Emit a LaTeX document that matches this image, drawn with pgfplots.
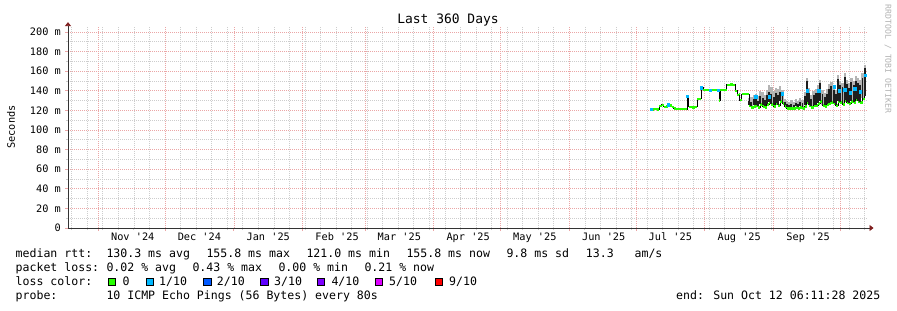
\documentclass[border=0pt]{standalone}
\usepackage{fontspec}
\setmainfont{DejaVu Sans Mono}
\usepackage{pgfplots}
\usepackage{pgfplotstable}
\pgfplotsset{compat=1.18}
\usetikzlibrary{arrows.meta}

\definecolor{lossA}{HTML}{26FF00}
\definecolor{lossB}{HTML}{00B8FF}
\definecolor{lossC}{HTML}{0059FF}
\definecolor{lossD}{HTML}{5E00FF}
\definecolor{lossE}{HTML}{7E00FF}
\definecolor{lossF}{HTML}{DD00FF}
\definecolor{lossG}{HTML}{FF0000}
\definecolor{mgrid}{HTML}{EBA6A6}
\definecolor{ngrid}{HTML}{CDCDCD}
\definecolor{arrowc}{HTML}{802020}
\definecolor{smokeL}{HTML}{B4B4B4}
\definecolor{smokeD}{HTML}{1E1E1E}

\newcommand{\q}{\textquotesingle}

% days since 1 Nov 2024, median rtt in ms
\pgfplotstableread{
d m
248.8 121.0
250.1 121.5
251.5 121.0
252.4 124.5
253.7 125.5
254.6 123.5
255.5 124.0
256.4 126.0
257.3 125.0
258.2 123.8
259.1 122.0
260.0 121.4
265.0 134.0
265.8 123.5
267.2 123.0
268.6 123.5
269.5 132.0
271.3 143.5
272.2 141.0
276.2 140.5
279.4 130.0
279.9 140.5
282.8 146.0
284.3 146.5
285.7 146.0
286.6 140.0
287.5 135.5
288.4 137.0
288.8 130.5
289.7 136.7
293 125
294 123
295 124
296 125
297 123
298 126
299 124
300 123
301 126
302 128
303 126
304 124
305 127
306 125
307 129
308 127
309 124
310 122
311 122
312 122
313 122
314 123
315 122
316 123
317 122
318 124
319 128
320 125
321 123
322 125
323 125
324 127
325 129
326 125
327 124
328 126
329 127
330 128
331 127
332 125
333 129
334 128
335 126
336 130
337 128
338 127
339 129
340 128
341 131
342 129
343 128
344 132
345 156
345.8 156
}\median

% smoke: dense range (bl..bh) and light range up to sh
\pgfplotstableread{
d sh bl bh
293 133 126 130
294 134 124 129
295 136 125 132
296 137 126 134
297 135 124 130
298 140 127 135
299 139 125 133
300 136 124 131
301 141 127 136
302 146 129 139
303 144 127 137
304 140 125 134
305 143 128 138
306 142 126 136
307 145 130 139
308 141 128 137
309 132 125 129
310 130 123 127
311 129 123 126
312 131 123 127
313 129 123 126
314 132 124 128
315 130 123 127
316 133 124 129
317 131 123 128
318 139 125 135
319 153 129 150
320 143 126 138
321 136 124 132
322 140 126 136
323 142 126 138
324 146 128 141
325 151 130 148
326 141 126 137
327 138 125 134
328 142 127 137
329 147 128 142
330 149 129 145
331 146 128 141
332 141 126 137
333 156 130 152
334 150 129 146
335 148 127 144
336 158 131 154
337 151 129 147
338 148 128 143
339 153 130 149
340 150 129 146
341 155 132 150
342 153 130 148
343 151 129 146
344 158 133 153
345 166 135 163
}\smoke

% points with 1/10 loss
\pgfplotstableread{
d m
248.9 121.0
256.4 126.0
265.0 134.5
271.5 143.0
275.5 140.5
279.0 140.5
296.0 134.0
302.0 134.0
307.8 137.0
319.0 140.0
324.2 140.0
331.2 144.0
333.5 140.0
336.0 141.0
338.5 138.0
340.5 142.0
343.0 139.0
345.2 156.0
}\lossone

\begin{document}
\begin{tikzpicture}[x=1bp,y=1bp]
\path[use as bounding box] (0,0) rectangle (897,310);
\begin{axis}[
  at={(68bp,82bp)}, anchor=south west,
  scale only axis, width=798.5bp, height=201.9bp,
  xmin=-13.64, xmax=345.8, ymin=0, ymax=206,
  axis x line=bottom, axis y line=left,
  x axis line style={draw=black!80, line width=0.8bp, shorten >=-7bp, -{Triangle[length=4bp,width=6bp,color=arrowc]}},
  y axis line style={draw=black!80, line width=0.8bp, shorten >=-4bp, -{Triangle[length=4bp,width=6bp,color=arrowc]}},
  xtick={0,30,61,92,120,151,181,212,242,273,304,334},
  xticklabels={,,,,,,,,,,,},
  minor xtick={-12,-5,...,345},
  extra x ticks={15.5,45.5,76.5,107.5,135.5,166.5,196.5,227.5,257.5,288.5,319.5},
  extra x tick labels={Nov \q24,Dec \q24,Jan \q25,Feb \q25,Mar \q25,Apr \q25,May \q25,Jun \q25,Jul \q25,Aug \q25,Sep \q25},
  extra x tick style={grid=none, major tick length=0pt,
     xticklabel style={anchor=base, inner sep=0pt, yshift=-12.5bp}},
  ytick={0,20,...,200},
  yticklabels={0,20 m,40 m,60 m,80 m,100 m,120 m,140 m,160 m,180 m,200 m},
  minor ytick={10,30,...,190},
  yticklabel style={anchor=east, inner sep=0pt, xshift=-4bp},
  tick label style={font=\fontsize{10.3}{12}\selectfont, text=black},
  tick align=outside,
  major tick length=3bp, minor tick length=2bp,
  major tick style={draw=mgrid, line width=0.7bp},
  minor tick style={draw=ngrid, line width=0.7bp},
  grid=both,
  major grid style={draw=mgrid, line width=0.6bp, dash pattern=on 1bp off 1bp},
  minor grid style={draw=ngrid, line width=0.6bp, dash pattern=on 1bp off 1bp},
]
% light smoke
\addplot[draw=none, mark=none, forget plot,
  error bars/.cd, y dir=plus, y explicit, error mark=none,
  error bar style={draw=smokeL, line width=2.3bp}]
  table[x=d, y=bl, y error expr=\thisrow{sh}-\thisrow{bl}] {\smoke};
% median connectors
\addplot[const plot, draw=black, line width=1bp, mark=none] table[x=d, y=m] {\median};
% median, no loss
\addplot[jump mark left, draw=lossA, line width=2.2bp, mark=none] table[x=d, y=m] {\median};
% dense smoke
\addplot[draw=none, mark=none, forget plot,
  error bars/.cd, y dir=plus, y explicit, error mark=none,
  error bar style={draw=smokeD, line width=1.9bp}]
  table[x=d, y=bl, y error expr=\thisrow{bh}-\thisrow{bl}] {\smoke};
% 1/10 loss
\addplot[only marks, mark=square*, mark size=1.2bp, mark options={draw=lossB, fill=lossB}] table[x=d, y=m] {\lossone};
\end{axis}

\node[font=\fontsize{13}{15}\selectfont, anchor=center] at (448,290) {Last 360 Days};
\node[font=\fontsize{10.3}{12}\selectfont, rotate=90, anchor=center] at (11,183) {Seconds};
\node[font=\fontsize{8.2}{10}\selectfont, text=black!30, rotate=-90, anchor=center] at (888,251) {RRDTOOL / TOBI OETIKER};

\begin{scope}[every node/.style={anchor=base west, inner sep=0pt, font=\fontsize{11.6}{13}\selectfont}]
\node at (15.5,52.3) {median rtt:};
\node at (106.3,52.3) {130.3 ms avg};
\node at (206.3,52.3) {155.8 ms max};
\node at (306.3,52.3) {121.0 ms min};
\node at (406.3,52.3) {155.8 ms now};
\node at (506.3,52.3) {9.8 ms sd};
\node at (585.7,52.3) {13.3~~~am/s};
\node at (15.5,38.2) {packet loss:};
\node at (106.3,38.2) {0.02 \% avg};
\node at (192.3,38.2) {0.43 \% max};
\node at (278.3,38.2) {0.00 \% min};
\node at (364.3,38.2) {0.21 \% now};
\node at (15.5,24.4) {loss color:};
\node at (122.3,24.4) {0};
\node at (159.0,24.4) {1/10};
\node at (216.7,24.4) {2/10};
\node at (274.0,24.4) {3/10};
\node at (331.3,24.4) {4/10};
\node at (389.0,24.4) {5/10};
\node at (449.0,24.4) {9/10};
\node at (15.5,10.2) {probe:};
\node at (106.3,10.2) {10 ICMP Echo Pings (56 Bytes) every 80s};
\node[anchor=base east] at (880.5,10.2) {end: Sun Oct 12 06:11:28 2025};
\end{scope}
\foreach \xx/\cc in {108/lossA,146/lossB,203.5/lossC,260.5/lossD,317/lossE,375/lossF,435/lossG}{
  \filldraw[fill=\cc, draw=black, line width=0.7bp] (\xx,24.3) rectangle ++(7.6,7.6);
}
\end{tikzpicture}
\end{document}
